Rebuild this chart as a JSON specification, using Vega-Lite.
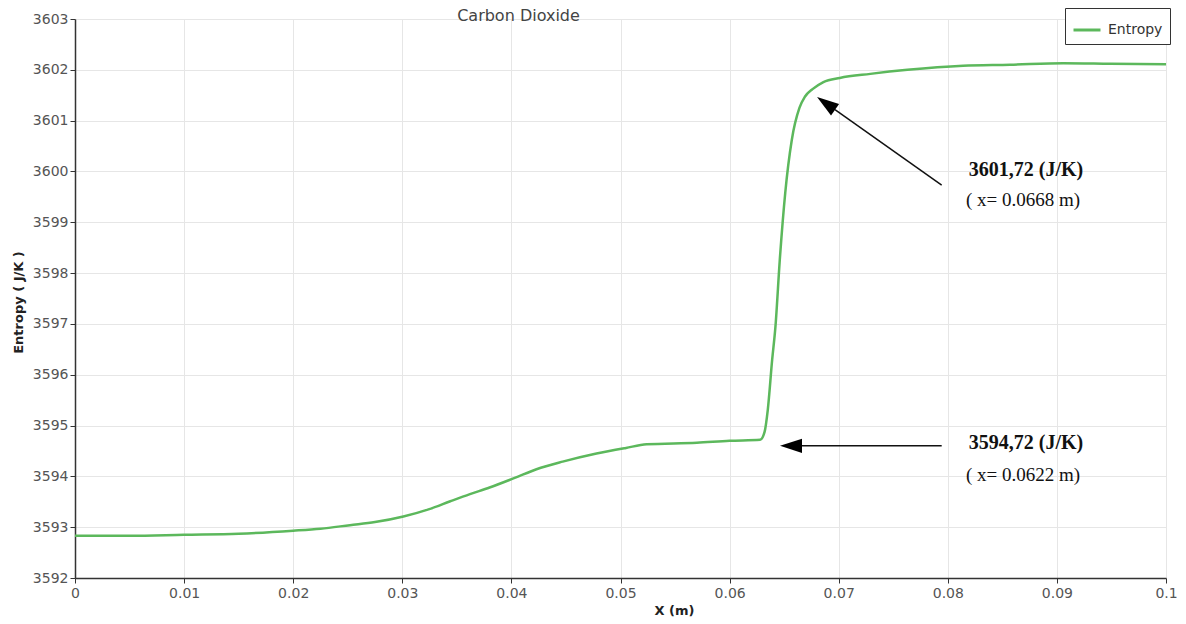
{
  "$schema": "https://vega.github.io/schema/vega-lite/v6.json",
  "width": 1091,
  "height": 559,
  "autosize": {"type": "none"},
  "padding": {"left": 75, "top": 19, "right": 20, "bottom": 46},
  "background": "white",
  "title": {"text": "Carbon Dioxide", "anchor": "middle", "dx": -102, "offset": -24, "baseline": "middle", "font": "DejaVu Sans", "fontSize": 16, "fontWeight": "normal", "color": "#444"},
  "datasets": {
    "curve": [
      {"x": 0, "entropy": 3592.83, "series": "Entropy"},
      {"x": 0.005, "entropy": 3592.83, "series": "Entropy"},
      {"x": 0.01, "entropy": 3592.85, "series": "Entropy"},
      {"x": 0.015, "entropy": 3592.87, "series": "Entropy"},
      {"x": 0.02, "entropy": 3592.93, "series": "Entropy"},
      {"x": 0.0225, "entropy": 3592.97, "series": "Entropy"},
      {"x": 0.0252, "entropy": 3593.04, "series": "Entropy"},
      {"x": 0.0275, "entropy": 3593.10, "series": "Entropy"},
      {"x": 0.0301, "entropy": 3593.21, "series": "Entropy"},
      {"x": 0.0324, "entropy": 3593.35, "series": "Entropy"},
      {"x": 0.0344, "entropy": 3593.51, "series": "Entropy"},
      {"x": 0.0362, "entropy": 3593.65, "series": "Entropy"},
      {"x": 0.038, "entropy": 3593.78, "series": "Entropy"},
      {"x": 0.0403, "entropy": 3593.97, "series": "Entropy"},
      {"x": 0.0423, "entropy": 3594.14, "series": "Entropy"},
      {"x": 0.0447, "entropy": 3594.29, "series": "Entropy"},
      {"x": 0.0478, "entropy": 3594.45, "series": "Entropy"},
      {"x": 0.0505, "entropy": 3594.56, "series": "Entropy"},
      {"x": 0.0524, "entropy": 3594.63, "series": "Entropy"},
      {"x": 0.057, "entropy": 3594.66, "series": "Entropy"},
      {"x": 0.06, "entropy": 3594.70, "series": "Entropy"},
      {"x": 0.0628, "entropy": 3594.72, "series": "Entropy"},
      {"x": 0.0632, "entropy": 3594.87, "series": "Entropy"},
      {"x": 0.0635, "entropy": 3595.31, "series": "Entropy"},
      {"x": 0.0639, "entropy": 3596.29, "series": "Entropy"},
      {"x": 0.0642, "entropy": 3596.94, "series": "Entropy"},
      {"x": 0.0646, "entropy": 3598.26, "series": "Entropy"},
      {"x": 0.0651, "entropy": 3599.58, "series": "Entropy"},
      {"x": 0.0657, "entropy": 3600.62, "series": "Entropy"},
      {"x": 0.0664, "entropy": 3601.25, "series": "Entropy"},
      {"x": 0.0669, "entropy": 3601.47, "series": "Entropy"},
      {"x": 0.0676, "entropy": 3601.62, "series": "Entropy"},
      {"x": 0.0686, "entropy": 3601.76, "series": "Entropy"},
      {"x": 0.0701, "entropy": 3601.84, "series": "Entropy"},
      {"x": 0.0729, "entropy": 3601.92, "series": "Entropy"},
      {"x": 0.0763, "entropy": 3602.00, "series": "Entropy"},
      {"x": 0.0814, "entropy": 3602.08, "series": "Entropy"},
      {"x": 0.0857, "entropy": 3602.10, "series": "Entropy"},
      {"x": 0.0906, "entropy": 3602.13, "series": "Entropy"},
      {"x": 0.0949, "entropy": 3602.12, "series": "Entropy"},
      {"x": 0.1, "entropy": 3602.11, "series": "Entropy"}
    ],
    "arrows": [
      {"x": 0.07944, "y": 3599.73, "x2": 0.06966, "y2": 3601.215},
      {"x": 0.07944, "y": 3594.60, "x2": 0.0666, "y2": 3594.60}
    ],
    "headDiag": [{"x": 0.06884, "y": 3601.34}],
    "headLeft": [{"x": 0.06563, "y": 3594.60}],
    "valueLabels": [
      {"x": 0.08717, "y": 3600.03, "label": "3601,72 (J/K)"},
      {"x": 0.08717, "y": 3594.66, "label": "3594,72 (J/K)"}
    ],
    "posLabels": [
      {"x": 0.0869, "y": 3599.44, "label": "( x= 0.0668 m)"},
      {"x": 0.0869, "y": 3594.03, "label": "( x= 0.0622 m)"}
    ]
  },
  "layer": [
    {
      "data": {"name": "curve"},
      "mark": {"type": "line", "strokeWidth": 2.5, "interpolate": "monotone"},
      "encoding": {
        "x": {
          "field": "x", "type": "quantitative",
          "scale": {"domain": [0, 0.1], "nice": false, "zero": false},
          "axis": {
            "title": "X (m)",
            "values": [0, 0.01, 0.02, 0.03, 0.04, 0.05, 0.06, 0.07, 0.08, 0.09, 0.1],
            "format": ".2~f",
            "labelPadding": 3,
            "labelFlush": false,
            "titleX": 599,
            "titleY": 32,
            "titleBaseline": "middle"
          }
        },
        "y": {
          "field": "entropy", "type": "quantitative",
          "scale": {"domain": [3592, 3603], "nice": false, "zero": false},
          "axis": {
            "title": "Entropy ( J/K )",
            "values": [3592, 3593, 3594, 3595, 3596, 3597, 3598, 3599, 3600, 3601, 3602, 3603],
            "format": "d",
            "labelPadding": 2,
            "titleX": -57,
            "titleY": 283,
            "titleAlign": "center",
            "titleBaseline": "middle"
          }
        },
        "color": {
          "field": "series", "type": "nominal",
          "scale": {"domain": ["Entropy"], "range": ["#5cb85c"]},
          "legend": {
            "title": null,
            "orient": "none",
            "legendX": 990,
            "legendY": -11,
            "symbolType": "stroke",
            "symbolSize": 729,
            "symbolStrokeWidth": 3,
            "labelFont": "DejaVu Sans",
            "labelFontSize": 14,
            "labelColor": "#333",
            "labelOffset": 6,
            "padding": 7,
            "strokeColor": "#333",
            "fillColor": "white"
          }
        }
      }
    },
    {
      "data": {"name": "arrows"},
      "mark": {"type": "rule", "color": "#111", "strokeWidth": 1.5},
      "encoding": {
        "x": {"field": "x", "type": "quantitative"},
        "y": {"field": "y", "type": "quantitative"},
        "x2": {"field": "x2"},
        "y2": {"field": "y2"}
      }
    },
    {
      "data": {"name": "headDiag"},
      "mark": {"type": "point", "shape": "M0,-1L0.64,1L-0.64,1Z", "size": 484, "filled": true, "color": "#000", "opacity": 1, "angle": 305},
      "encoding": {
        "x": {"field": "x", "type": "quantitative"},
        "y": {"field": "y", "type": "quantitative"}
      }
    },
    {
      "data": {"name": "headLeft"},
      "mark": {"type": "point", "shape": "M0,-1L0.64,1L-0.64,1Z", "size": 484, "filled": true, "color": "#000", "opacity": 1, "angle": 270},
      "encoding": {
        "x": {"field": "x", "type": "quantitative"},
        "y": {"field": "y", "type": "quantitative"}
      }
    },
    {
      "data": {"name": "valueLabels"},
      "mark": {"type": "text", "font": "Liberation Serif", "fontSize": 20, "fontWeight": "bold", "color": "#111", "align": "center", "baseline": "middle"},
      "encoding": {
        "x": {"field": "x", "type": "quantitative"},
        "y": {"field": "y", "type": "quantitative"},
        "text": {"field": "label"}
      }
    },
    {
      "data": {"name": "posLabels"},
      "mark": {"type": "text", "font": "Liberation Serif", "fontSize": 19, "color": "#111", "align": "center", "baseline": "middle"},
      "encoding": {
        "x": {"field": "x", "type": "quantitative"},
        "y": {"field": "y", "type": "quantitative"},
        "text": {"field": "label"}
      }
    }
  ],
  "config": {
    "view": {"stroke": null},
    "axis": {
      "domainColor": "#333",
      "domainWidth": 1.5,
      "tickColor": "#333",
      "tickSize": 5,
      "gridColor": "#e6e6e6",
      "labelColor": "#555",
      "labelFont": "DejaVu Sans",
      "labelFontSize": 14,
      "titleFont": "DejaVu Sans",
      "titleFontWeight": "bold",
      "titleFontSize": 13,
      "titleColor": "#222"
    }
  }
}
